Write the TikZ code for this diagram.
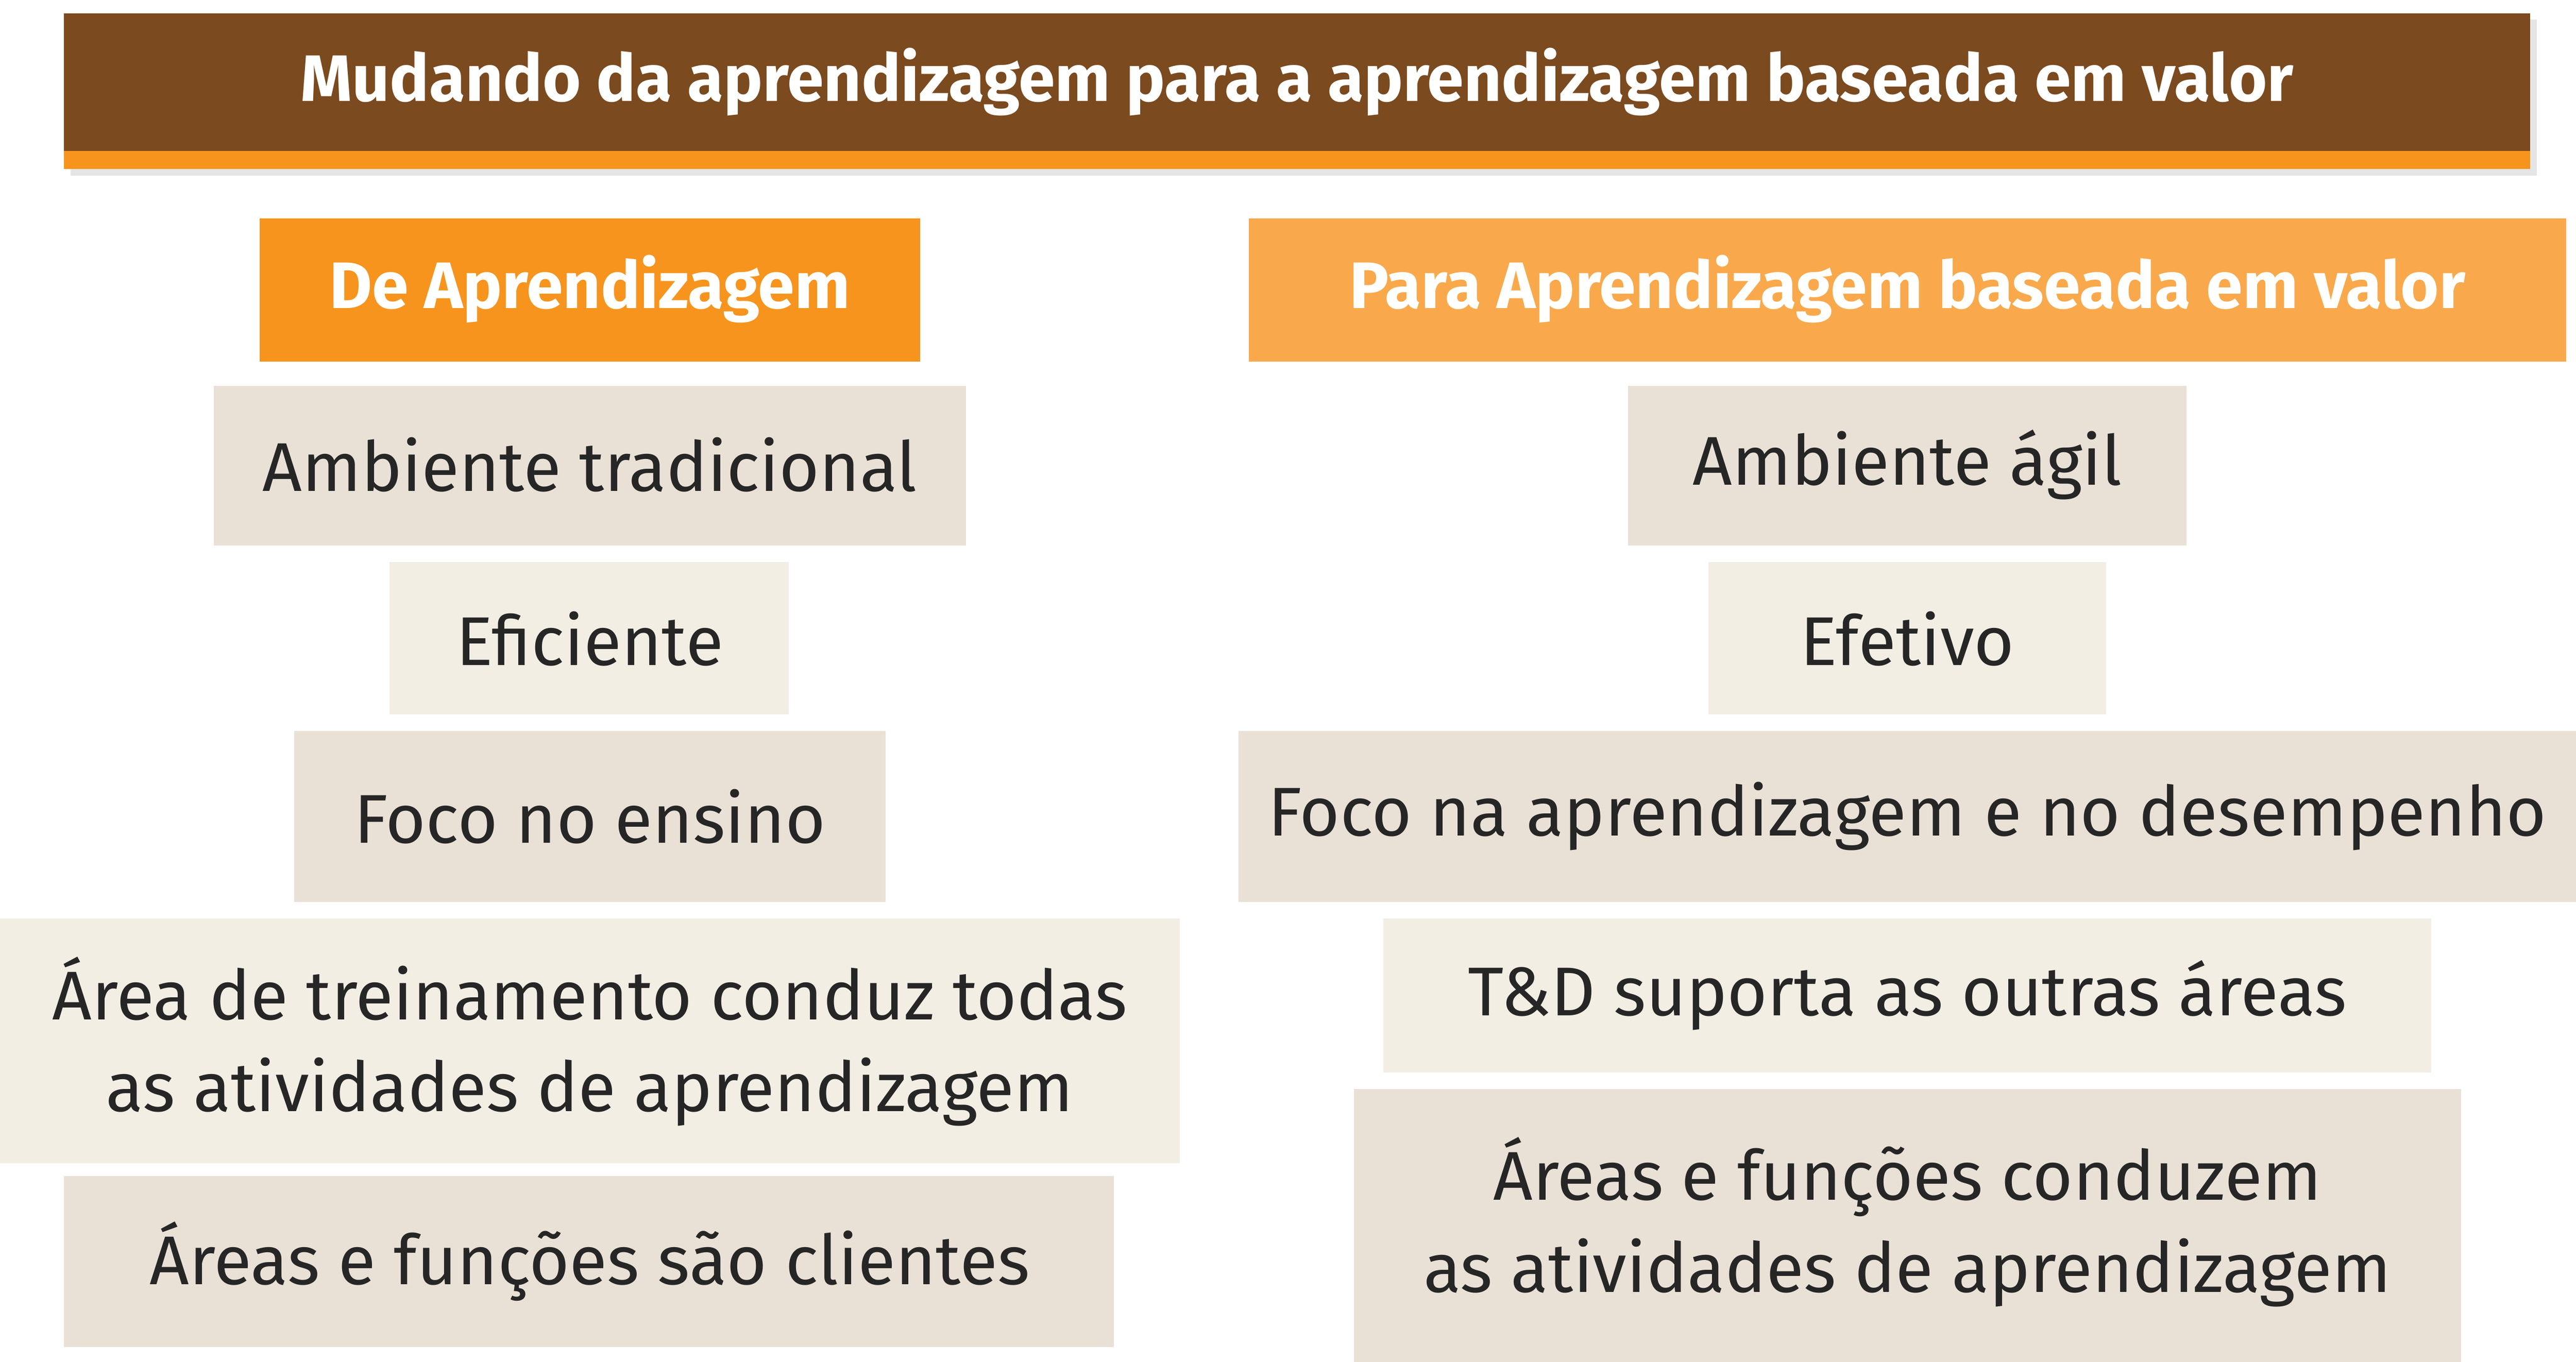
\documentclass[tikz,border=0pt]{standalone}
\usepackage{fontspec}
\setmainfont{Fira Sans}
\definecolor{brown}{HTML}{7B4A1F}
\definecolor{orA}{HTML}{F7941D}
\definecolor{orB}{HTML}{F9A94B}
\definecolor{bgD}{HTML}{EAE1D6}
\definecolor{bgL}{HTML}{F3EEE4}
\tikzset{x=1pt,y=-1pt,
 txt/.style={font=\fontsize{42}{56}\selectfont,text=black!85,align=center},
 hd/.style={font=\fontsize{40}{48}\selectfont\bfseries,text=white}}
\newcommand{\bx}[6]{\fill[#5] (#1,#3) rectangle (#2,#4);
 \node[txt] (#6) at ({(#1+#2)/2},{(#3+#4)/2}) {#6text};}
\begin{document}
\begin{tikzpicture}
\useasboundingbox (0,0) rectangle (1568,829);
\fill[black!10] (43,12) rectangle (1544,107);
\fill[orA] (39,92) rectangle (1540,103);
\fill[brown] (39,8) rectangle (1540,92);
\node[hd] (title) at (789.5,50) {Mudando da aprendizagem para a aprendizagem baseada em valor};
\fill[orA] (158,133) rectangle (560,220);
\node[hd] (hl) at (359,176) {De Aprendizagem};
\fill[orB] (760,133) rectangle (1562,220);
\node[hd] (hr) at (1161,176) {Para Aprendizagem baseada em valor};
\fill[bgD] (130,235) rectangle (588,332); \node[txt] (l1) at (359,283) {Ambiente tradicional};
\fill[bgL] (237,342) rectangle (480,435); \node[txt] (l2) at (359,389) {Eficiente};
\fill[bgD] (179,445) rectangle (539,549); \node[txt] (l3) at (359,497) {Foco no ensino};
\fill[bgL] (0,559) rectangle (718,708); \node[txt] (l4) at (359,634) {Área de treinamento conduz todas\\as atividades de aprendizagem};
\fill[bgD] (39,716) rectangle (678,820); \node[txt] (l5) at (359,768) {Áreas e funções são clientes};
\fill[bgD] (991,235) rectangle (1331,332); \node[txt] (r1) at (1161,283) {Ambiente ágil};
\fill[bgL] (1040,342) rectangle (1282,435); \node[txt] (r2) at (1161,389) {Efetivo};
\fill[bgD] (754,445) rectangle (1568,549); \node[txt] (r3) at (1161,497) {Foco na aprendizagem e no desempenho};
\fill[bgL] (842,559) rectangle (1480,653); \node[txt] (r4) at (1161,606) {T\&D suporta as outras áreas};
\fill[bgD] (824,663) rectangle (1498,829); \node[txt] (r5) at (1161,744) {Áreas e funções conduzem\\as atividades de aprendizagem};
\end{tikzpicture}
\end{document}
